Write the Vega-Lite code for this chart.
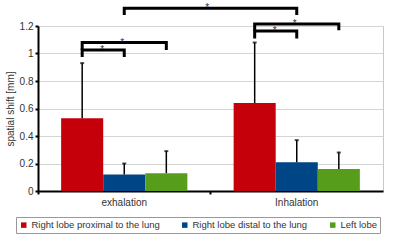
{
  "$schema": "https://vega.github.io/schema/vega-lite/v6.json",
  "width": 345,
  "height": 165,
  "autosize": {"type": "none"},
  "padding": {"left": 38, "top": 26, "right": 17, "bottom": 51},
  "background": "white",
  "config": {
    "font": "Liberation Sans",
    "view": {"stroke": "#c8c8c8", "strokeWidth": 1},
    "axis": {"labelFont": "Liberation Sans", "titleFont": "Liberation Sans", "labelColor": "#333333", "titleColor": "#333333", "labelFontSize": 10, "titleFontSize": 10, "titleFontWeight": "normal", "labelOverlap": false, "labelFlush": false},
    "axisY": {"values": [0, 0.2, 0.4, 0.6, 0.8, 1, 1.2], "labelExpr": "datum.value == 0 ? '0' : datum.value == 1 ? '1' : format(datum.value, '.1f')", "domainColor": "black", "domainWidth": 2, "tickColor": "black", "tickWidth": 2, "tickSize": 3, "labelPadding": 2, "titlePadding": 4, "gridColor": "#d4d4d4", "gridWidth": 1},
    "axisX": {"labelAngle": 0, "domainColor": "black", "domainWidth": 2, "tickColor": "black", "tickWidth": 2, "tickSize": 3, "labelPadding": 3, "grid": false, "bandPosition": 0}
  },
  "datasets": {
    "bars": [
      {"phase": "exhalation", "region": "Right lobe proximal to the lung", "shift": 0.53, "err": 0.93},
      {"phase": "exhalation", "region": "Right lobe distal to the lung", "shift": 0.12, "err": 0.2},
      {"phase": "exhalation", "region": "Left lobe", "shift": 0.13, "err": 0.29},
      {"phase": "Inhalation", "region": "Right lobe proximal to the lung", "shift": 0.64, "err": 1.08},
      {"phase": "Inhalation", "region": "Right lobe distal to the lung", "shift": 0.21, "err": 0.37},
      {"phase": "Inhalation", "region": "Left lobe", "shift": 0.16, "err": 0.28}
    ],
    "brackets": [
      {"id": "e1", "seq": 1, "phase": "exhalation", "region": "Right lobe proximal to the lung", "v": 0.975},
      {"id": "e1", "seq": 2, "phase": "exhalation", "region": "Right lobe proximal to the lung", "v": 1.025},
      {"id": "e1", "seq": 3, "phase": "exhalation", "region": "Right lobe distal to the lung", "v": 1.025},
      {"id": "e1", "seq": 4, "phase": "exhalation", "region": "Right lobe distal to the lung", "v": 0.975},
      {"id": "e2", "seq": 1, "phase": "exhalation", "region": "Right lobe proximal to the lung", "v": 1.025},
      {"id": "e2", "seq": 2, "phase": "exhalation", "region": "Right lobe proximal to the lung", "v": 1.08},
      {"id": "e2", "seq": 3, "phase": "exhalation", "region": "Left lobe", "v": 1.08},
      {"id": "e2", "seq": 4, "phase": "exhalation", "region": "Left lobe", "v": 1.025},
      {"id": "i1", "seq": 1, "phase": "Inhalation", "region": "Right lobe proximal to the lung", "v": 1.11},
      {"id": "i1", "seq": 2, "phase": "Inhalation", "region": "Right lobe proximal to the lung", "v": 1.164},
      {"id": "i1", "seq": 3, "phase": "Inhalation", "region": "Right lobe distal to the lung", "v": 1.164},
      {"id": "i1", "seq": 4, "phase": "Inhalation", "region": "Right lobe distal to the lung", "v": 1.11},
      {"id": "i2", "seq": 1, "phase": "Inhalation", "region": "Right lobe proximal to the lung", "v": 1.164},
      {"id": "i2", "seq": 2, "phase": "Inhalation", "region": "Right lobe proximal to the lung", "v": 1.215},
      {"id": "i2", "seq": 3, "phase": "Inhalation", "region": "Left lobe", "v": 1.215},
      {"id": "i2", "seq": 4, "phase": "Inhalation", "region": "Left lobe", "v": 1.17},
      {"id": "b", "seq": 1, "phase": "exhalation", "region": "Right lobe distal to the lung", "v": 1.28},
      {"id": "b", "seq": 2, "phase": "exhalation", "region": "Right lobe distal to the lung", "v": 1.33},
      {"id": "b", "seq": 3, "phase": "Inhalation", "region": "Right lobe distal to the lung", "v": 1.33},
      {"id": "b", "seq": 4, "phase": "Inhalation", "region": "Right lobe distal to the lung", "v": 1.28}
    ],
    "starsMid": [
      {"phase": "exhalation", "region": "Right lobe distal to the lung", "v": 1.08, "label": "*"},
      {"phase": "Inhalation", "region": "Right lobe distal to the lung", "v": 1.215, "label": "*"}
    ],
    "starsPair": [
      {"phase": "exhalation", "region": "Right lobe proximal to the lung", "v": 1.025, "label": "*"},
      {"phase": "Inhalation", "region": "Right lobe proximal to the lung", "v": 1.164, "label": "*"}
    ],
    "starsBig": [
      {"phase": "exhalation", "region": "Left lobe", "v": 1.33, "label": "*"}
    ]
  },
  "encoding": {
    "x": {
      "field": "phase", "type": "nominal", "sort": ["exhalation", "Inhalation"], "title": null,
      "scale": {"domain": ["exhalation", "Inhalation"], "paddingInner": 0, "paddingOuter": 0}
    },
    "xOffset": {
      "field": "region", "type": "nominal",
      "scale": {"domain": ["Right lobe proximal to the lung", "Right lobe distal to the lung", "Left lobe"], "paddingInner": 0, "paddingOuter": 0.55}
    }
  },
  "layer": [
    {
      "data": {"name": "bars"},
      "mark": {"type": "bar"},
      "encoding": {
        "y": {
          "field": "shift", "type": "quantitative", "title": "spatial shift [mm]",
          "scale": {"domain": [0, 1.2], "nice": false}
        },
        "color": {
          "field": "region", "type": "nominal",
          "scale": {"domain": ["Right lobe proximal to the lung", "Right lobe distal to the lung", "Left lobe"], "range": ["#c5000b", "#004586", "#579d1c"]},
          "legend": {"title": null, "orient": "none", "legendX": -22, "legendY": 191, "direction": "horizontal", "fillColor": "white", "strokeColor": "#999999", "padding": 3, "columnPadding": 20, "symbolType": "square", "symbolSize": 30, "symbolStrokeWidth": 0, "labelFontSize": 9.5, "labelOffset": 3, "labelColor": "#333333", "labelFont": "Liberation Sans"}
        }
      }
    },
    {
      "data": {"name": "bars"},
      "mark": {"type": "rule", "color": "black", "strokeWidth": 1.5},
      "encoding": {
        "y": {"field": "shift", "type": "quantitative", "title": "spatial shift [mm]"},
        "y2": {"field": "err"}
      }
    },
    {
      "data": {"name": "bars"},
      "mark": {"type": "tick", "orient": "horizontal", "color": "black", "size": 4, "thickness": 2},
      "encoding": {
        "y": {"field": "err", "type": "quantitative", "title": "spatial shift [mm]"}
      }
    },
    {
      "data": {"name": "brackets"},
      "mark": {"type": "line", "color": "black", "strokeWidth": 3, "strokeJoin": "miter", "strokeCap": "butt"},
      "encoding": {
        "y": {"field": "v", "type": "quantitative", "title": "spatial shift [mm]"},
        "detail": {"field": "id", "type": "nominal"},
        "order": {"field": "seq", "type": "quantitative"}
      }
    },
    {
      "data": {"name": "starsMid"},
      "mark": {"type": "text", "color": "#333333", "fontSize": 10, "baseline": "alphabetic", "dy": 3, "dx": -2},
      "encoding": {
        "y": {"field": "v", "type": "quantitative", "title": "spatial shift [mm]"},
        "text": {"field": "label"}
      }
    },
    {
      "data": {"name": "starsPair"},
      "mark": {"type": "text", "color": "#333333", "fontSize": 10, "baseline": "alphabetic", "dy": 3, "dx": 20},
      "encoding": {
        "y": {"field": "v", "type": "quantitative", "title": "spatial shift [mm]"},
        "text": {"field": "label"}
      }
    },
    {
      "data": {"name": "starsBig"},
      "mark": {"type": "text", "color": "#333333", "fontSize": 10, "baseline": "alphabetic", "dy": 3, "dx": 41},
      "encoding": {
        "y": {"field": "v", "type": "quantitative", "title": "spatial shift [mm]"},
        "text": {"field": "label"}
      }
    }
  ]
}
